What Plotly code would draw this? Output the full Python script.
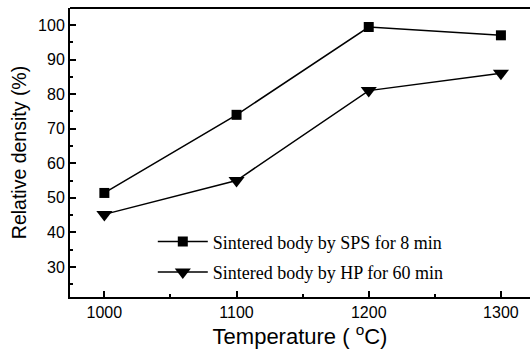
import plotly.graph_objects as go

temps = [1000, 1100, 1200, 1300]
sps = [51.4, 74.0, 99.4, 97.0]
hp = [45.2, 55.0, 81.0, 86.0]
x_ticks = [1000, 1100, 1200, 1300]
y_ticks = [30, 40, 50, 60, 70, 80, 90, 100]

fig = go.Figure()
fig.add_trace(go.Scatter(x=temps, y=sps, mode="lines+markers",
                         name="Sintered body by SPS for 8 min", legendgroup="a",
                         line=dict(color="black", width=1.5),
                         marker=dict(symbol="square", size=10, color="black")))
fig.add_trace(go.Scatter(x=temps, y=hp, mode="lines+markers",
                         name="Sintered body by HP for 60 min", legendgroup="b",
                         line=dict(color="black", width=1.5),
                         marker=dict(symbol="triangle-down", size=14, color="black")))

fig.update_layout(
    width=532, height=357,
    margin=dict(l=70, r=2, t=8, b=60),
    plot_bgcolor="white", paper_bgcolor="white",
    font=dict(family="Liberation Sans, Arial", color="black", size=16),
    legend=dict(x=0.18, y=0.255, xanchor="left", yanchor="top",
                bgcolor="rgba(0,0,0,0)",
                font=dict(family="Liberation Serif, Times New Roman", size=18, color="black"),
                tracegroupgap=4, itemwidth=50),
    showlegend=True,
)
fig.update_xaxes(range=[974, 1322], tickvals=x_ticks, ticks="inside", ticklen=6,
                 tickwidth=1.5, tickcolor="black", showline=True, linecolor="black",
                 linewidth=2, showgrid=False, zeroline=False,
                 minor=dict(dtick=50, tick0=1000, ticks="inside", ticklen=3, tickcolor="black"),
                 title=dict(text="Temperature ( <sup>o</sup>C)", font=dict(size=22), standoff=6))
fig.update_yaxes(range=[21.3, 104.9], tickvals=y_ticks, ticks="inside", ticklen=6,
                 tickwidth=1.5, tickcolor="black", showline=True, linecolor="black",
                 linewidth=2, showgrid=False, zeroline=False,
                 minor=dict(dtick=5, tick0=0, ticks="inside", ticklen=3, tickcolor="black"),
                 title=dict(text="Relative density (%)", font=dict(size=19.5), standoff=6))
fig.add_shape(type="line", xref="paper", yref="paper", x0=0, x1=1, y0=1, y1=1,
              line=dict(color="black", width=2))

fig.write_html("out.html")
